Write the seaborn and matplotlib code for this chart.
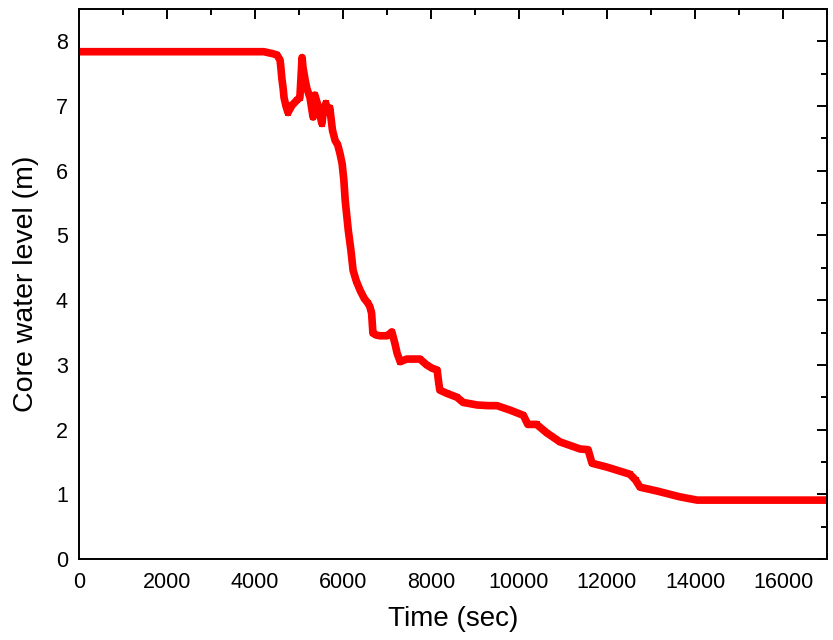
import matplotlib
matplotlib.use("Agg")
import matplotlib.pyplot as plt
from matplotlib.ticker import MultipleLocator
import seaborn as sns
import pandas as pd

time_sec = [0, 1000, 2000, 3000, 4000, 4200, 4400, 4500, 4570, 4590, 4610, 4640,
            4660, 4700, 4750, 4840, 4950, 5020, 5070, 5090, 5140, 5180, 5250,
            5320, 5360, 5430, 5520, 5560, 5610, 5660, 5700, 5760, 5820, 5880,
            5930, 5980, 6020, 6050, 6120, 6180, 6230, 6300, 6390, 6480, 6570,
            6610, 6650, 6680, 6760, 6840, 7000, 7060, 7110, 7180, 7230, 7300,
            7450, 7600, 7750, 7900, 8020, 8140, 8170, 8200, 8360, 8590, 8730,
            9050, 9300, 9500, 9800, 10100, 10200, 10400, 10630, 10930, 11390,
            11570, 11660, 12000, 12520, 12650, 12750, 13140, 13660, 14050,
            15000, 16000, 17000]
level_m = [7.84, 7.84, 7.84, 7.84, 7.84, 7.84, 7.81, 7.79, 7.71, 7.58, 7.43, 7.27,
           7.13, 7.01, 6.90, 7.01, 7.09, 7.13, 7.75, 7.60, 7.40, 7.27, 7.13,
           6.83, 7.17, 7.01, 6.73, 6.95, 7.04, 6.90, 6.97, 6.63, 6.47, 6.40,
           6.27, 6.11, 5.85, 5.54, 5.08, 4.77, 4.46, 4.30, 4.15, 4.03, 3.95,
           3.90, 3.80, 3.49, 3.46, 3.45, 3.45, 3.48, 3.51, 3.33, 3.18, 3.05,
           3.09, 3.09, 3.09, 3.00, 2.95, 2.92, 2.75, 2.61, 2.56, 2.50, 2.42,
           2.38, 2.37, 2.37, 2.30, 2.22, 2.08, 2.08, 1.95, 1.81, 1.70,
           1.69, 1.48, 1.42, 1.31, 1.22, 1.11, 1.05, 0.96, 0.91,
           0.91, 0.91, 0.91]

x_ticks = [0, 2000, 4000, 6000, 8000, 10000, 12000, 14000, 16000]
y_ticks = [0, 1, 2, 3, 4, 5, 6, 7, 8]

df = pd.DataFrame({"Time (sec)": time_sec, "Core water level (m)": level_m})

sns.set_style("white")
plt.rcParams["font.family"] = ["Liberation Sans", "DejaVu Sans"]

fig = plt.figure(figsize=(8.33, 6.4), dpi=100)
ax = fig.add_axes([79 / 833, 1 - 559 / 640, (827 - 79) / 833, (559 - 9) / 640])

sns.lineplot(data=df, x="Time (sec)", y="Core water level (m)", ax=ax,
             color="#ff0000", linewidth=5.5, marker="s", markersize=5,
             markeredgewidth=0, sort=False, estimator=None)

ax.set_xlim(0, 17000)
ax.set_ylim(0, 8.5)
ax.set_xticks(x_ticks)
ax.set_yticks(y_ticks)
ax.set_yticklabels([str(v) for v in y_ticks])
ax.xaxis.set_minor_locator(MultipleLocator(1000))
ax.yaxis.set_minor_locator(MultipleLocator(0.5))
ax.tick_params(which="both", direction="in", top=True, right=True,
               width=1.4, colors="black", labelsize=15.5)
ax.tick_params(which="major", length=7)
ax.tick_params(which="minor", length=4.5)
ax.tick_params(axis="x", which="major", pad=9)
ax.tick_params(axis="y", which="major", pad=8)
for s in ax.spines.values():
    s.set_linewidth(1.4)
    s.set_color("black")
ax.set_xlabel("Time (sec)", fontsize=20, labelpad=10, color="black")
ax.set_ylabel("Core water level (m)", fontsize=20.5, labelpad=12, color="black")

fig.savefig("out.png", dpi=100)
